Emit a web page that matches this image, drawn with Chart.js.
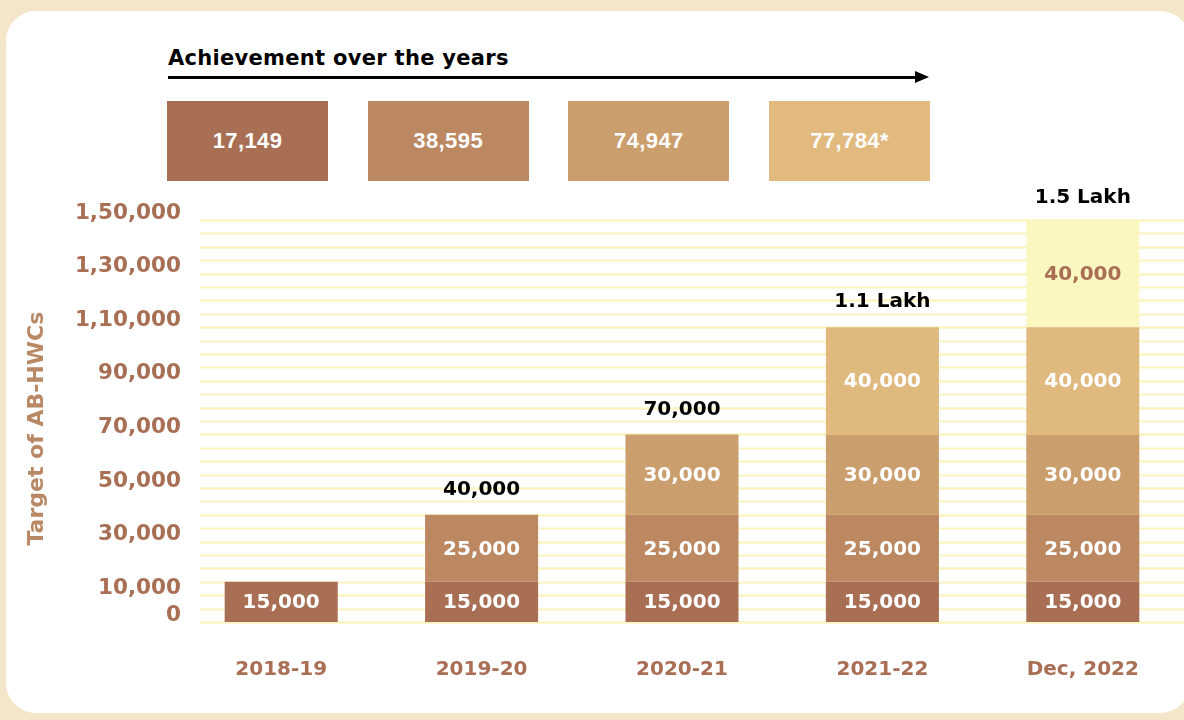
<!DOCTYPE html>
<html>
<head>
<meta charset="utf-8">
<script src="https://cdn.jsdelivr.net/npm/chart.js@4.4.1/dist/chart.umd.min.js"></script>
<style>
  html, body { margin: 0; padding: 0; }
  body { width: 1184px; height: 720px; background: #f4e6c9; position: relative; overflow: hidden; font-family: "DejaVu Sans", sans-serif; }
  #card { position: absolute; left: 6px; top: 11px; width: 1184px; height: 702px; background: #fff; border-radius: 30px; }
  #heading { position: absolute; left: 168px; top: 46px; font-weight: bold; font-size: 21px; letter-spacing: 0.3px; color: #000; }
  #arrow { position: absolute; left: 168px; top: 76px; width: 748px; height: 3px; background: #000; }
  #arrowHead { position: absolute; left: 915px; top: 71px; width: 0; height: 0; border-top: 6.5px solid transparent; border-bottom: 6.5px solid transparent; border-left: 14px solid #000; }
  .box { position: absolute; top: 101px; width: 161px; height: 80px; color: #fff; font: bold 22px "Liberation Sans", sans-serif; letter-spacing: 0.4px; display: flex; align-items: center; justify-content: center; }
  #chartWrap { position: absolute; left: 0; top: 0; width: 1184px; height: 720px; }
</style>
</head>
<body>
<div id="card"></div>
<div id="heading">Achievement over the years</div>
<div id="arrow"></div>
<div id="arrowHead"></div>
<div id="boxes"></div>
<div id="chartWrap"><canvas id="targetChart" width="1184" height="720"></canvas></div>

<script>
// Data
const categories = ['2018-19', '2019-20', '2020-21', '2021-22', 'Dec, 2022'];
const target15k = [15000, 15000, 15000, 15000, 15000];
const target25k = [null, 25000, 25000, 25000, 25000];
const target30k = [null, null, 30000, 30000, 30000];
const target40kA = [null, null, null, 40000, 40000];
const target40kB = [null, null, null, null, 40000];
const totalLabels = ['', '40,000', '70,000', '1.1 Lakh', '1.5 Lakh'];
const yTickValues = [0, 10000, 30000, 50000, 70000, 90000, 110000, 130000, 150000];
const yTickLabels = ['0', '10,000', '30,000', '50,000', '70,000', '90,000', '1,10,000', '1,30,000', '1,50,000'];
const achievements = ['17,149', '38,595', '74,947', '77,784*'];

// Colours
const brown = '#a86f54';
const boxColors = ['#a86f54', '#bc8862', '#cb9e6e', '#e2ba80'];
const segColors = ['#a86f54', '#bc8862', '#cb9e6e', '#e0b97f', '#fbf7c1'];
const FONT = '"DejaVu Sans", sans-serif';

// Achievement boxes above the chart
const boxesEl = document.getElementById('boxes');
achievements.forEach((txt, i) => {
    const div = document.createElement('div');
    div.className = 'box';
    div.style.left = (167 + i * 200.7) + 'px';
    div.style.background = boxColors[i];
    div.textContent = txt;
    boxesEl.appendChild(div);
});

// Striped yellow grid, drawn from the y scale
const gridPlugin = {
    id: 'stripeGrid',
    beforeDatasetsDraw(chart) {
        const { ctx, scales: { y } } = chart;
        ctx.save();
        ctx.strokeStyle = '#fcf4c1';
        for (let v = 0; v <= 150000; v += 5000) {
            const py = Math.round(y.getPixelForValue(v)) + 0.5;
            ctx.lineWidth = v % 10000 === 0 ? 2.6 : 1.8;
            ctx.beginPath();
            ctx.moveTo(200, py);
            ctx.lineTo(chart.width, py);
            ctx.stroke();
        }
        ctx.restore();
    }
};

// Segment values and stack totals
const labelPlugin = {
    id: 'barLabels',
    afterDatasetsDraw(chart) {
        const { ctx, scales: { y } } = chart;
        ctx.save();
        ctx.textAlign = 'center';
        ctx.textBaseline = 'middle';
        ctx.font = 'bold 20px ' + FONT;
        chart.data.datasets.forEach((ds, di) => {
            const meta = chart.getDatasetMeta(di);
            meta.data.forEach((bar, i) => {
                const v = ds.data[i];
                if (v == null) return;
                ctx.fillStyle = di === 4 ? brown : '#ffffff';
                ctx.fillText(v.toLocaleString('en-US'), bar.x, (bar.y + bar.base) / 2 + 1);
            });
        });
        ctx.fillStyle = '#000';
        const meta0 = chart.getDatasetMeta(0);
        categories.forEach((c, i) => {
            if (!totalLabels[i]) return;
            let sum = 0;
            chart.data.datasets.forEach(ds => { sum += ds.data[i] || 0; });
            const off = sum >= 150000 ? 22 : 25;
            ctx.fillText(totalLabels[i], meta0.data[i].x, y.getPixelForValue(sum) - off);
        });
        ctx.restore();
    }
};

const datasets = [target15k, target25k, target30k, target40kA, target40kB].map((d, i) => ({
    label: 'seg' + i,
    data: d,
    backgroundColor: segColors[i],
    borderWidth: 0,
    categoryPercentage: 1,
    barPercentage: 0.564
}));

const ctx = document.getElementById('targetChart').getContext('2d');
new Chart(ctx, {
    type: 'bar',
    data: { labels: categories, datasets: datasets },
    plugins: [gridPlugin, labelPlugin],
    options: {
        responsive: false,
        animation: false,
        layout: { padding: { top: 220, right: 1, bottom: 0, left: 0 } },
        plugins: { legend: { display: false }, tooltip: { enabled: false } },
        scales: {
            x: {
                stacked: true,
                grid: { display: false, drawTicks: false },
                border: { display: false },
                ticks: { color: brown, font: { family: FONT, size: 20, weight: 'bold' }, padding: 36 },
                afterFit(s) { s.height = 98; }
            },
            y: {
                stacked: true,
                min: 0,
                max: 150000,
                grid: { display: false, drawTicks: false },
                border: { display: false },
                afterBuildTicks(s) { s.ticks = yTickValues.map(v => ({ value: v })); },
                ticks: {
                    callback: (v, i) => yTickLabels[i],
                    labelOffset: -7,
                    padding: 0,
                    color: brown,
                    font: { family: FONT, size: 21.5, weight: 'bold' }
                },
                title: {
                    display: true,
                    text: 'Target of AB-HWCs\u00a0\u00a0',
                    color: '#b98865',
                    font: { family: FONT, size: 22, weight: 'bold' },
                    padding: { top: 24, bottom: 0 }
                },
                afterFit(s) { s.width = 181; }
            }
        }
    }
});
</script>
</body>
</html>
